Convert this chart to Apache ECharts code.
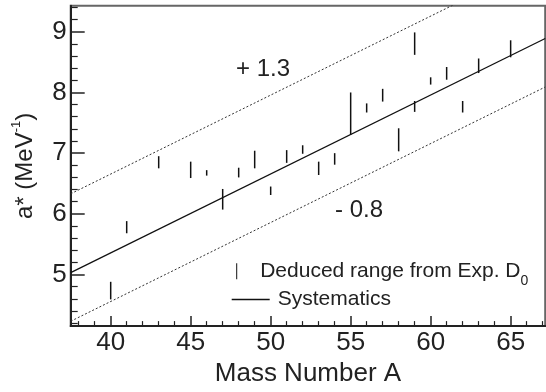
<!DOCTYPE html>
<html>
<head>
<meta charset="utf-8">
<script src="https://cdn.jsdelivr.net/npm/echarts@6/dist/echarts.min.js"></script>
<style>
  html, body { margin: 0; padding: 0; background: #fff; }
  #chart { width: 546px; height: 392px; }
</style>
</head>
<body>
<div id="chart"></div>
<script>
// mass number of each measured nucleus and the deduced a* range (low / high)
const massNumbers = [40, 41, 43, 45, 46, 47, 48, 49, 50, 51, 52, 53, 54, 55, 56, 57, 58, 59, 59, 60, 61, 62, 63, 65];
const rangeLow  = [4.59, 5.68, 6.75, 6.59, 6.63, 6.07, 6.60, 6.75, 6.31, 6.84, 6.99, 6.64, 6.81, 7.30, 7.67, 7.85, 7.03, 8.62, 7.68, 8.13, 8.21, 7.67, 8.32, 8.58];
const rangeHigh = [4.88, 5.88, 6.95, 6.86, 6.72, 6.41, 6.76, 7.04, 6.45, 7.05, 7.13, 6.86, 7.00, 8.00, 7.82, 8.06, 7.41, 8.99, 7.86, 8.25, 8.42, 7.86, 8.56, 8.86];

// systematics line and the +1.3 / -0.8 bands (end points)
const systematics = [[37.5, 5.03], [67.16, 8.89]];
const upperBand   = [[37.5, 6.33], [67.16, 10.19]];
const lowerBand   = [[37.5, 4.23], [67.16, 8.09]];

// tick labels
const xMajorTicks = [40, 45, 50, 55, 60, 65];
const xMinorTicks = [38, 39, 41, 42, 43, 44, 46, 47, 48, 49, 51, 52, 53, 54, 56, 57, 58, 59, 61, 62, 63, 64, 66, 67];
const yMajorTicks = [5, 6, 7, 8, 9];
const yMinorTicks = [4.2, 4.4, 4.6, 4.8, 5.2, 5.4, 5.6, 5.8, 6.2, 6.4, 6.6, 6.8, 7.2, 7.4, 7.6, 7.8, 8.2, 8.4, 8.6, 8.8, 9.2, 9.4];

const FONT = 'Liberation Sans';
const INK = '#222';

const rangeData = massNumbers.map((a, i) => [a, rangeLow[i], rangeHigh[i]]);

const chart = echarts.init(document.getElementById('chart'));

const baseX = { type: 'value', min: 37.5, max: 67.16, position: 'bottom', splitLine: { show: false } };
const baseY = { type: 'value', min: 4.15, max: 9.43, position: 'left', splitLine: { show: false } };

const option = {
  animation: false,
  textStyle: { fontFamily: FONT, color: INK },
  grid: {
    left: 70.7, top: 5.7, right: 0.8, bottom: 61.3,
    show: true, borderColor: '#666', borderWidth: 2
  },
  xAxis: [
    Object.assign({}, baseX, {
      name: 'Mass Number A',
      nameLocation: 'middle',
      nameGap: 33,
      nameTextStyle: { fontSize: 26, color: INK, fontFamily: FONT },
      axisLine: { lineStyle: { color: INK, width: 2 } },
      axisTick: { inside: true, length: 10, customValues: xMajorTicks, lineStyle: { color: INK, width: 1.5 } },
      axisLabel: { customValues: xMajorTicks, fontSize: 26, color: INK, margin: 4, fontFamily: FONT }
    }),
    Object.assign({}, baseX, {
      axisLine: { show: false },
      axisTick: { inside: true, length: 5, customValues: xMinorTicks, lineStyle: { color: INK, width: 1.2 } },
      axisLabel: { show: false }
    })
  ],
  yAxis: [
    Object.assign({}, baseY, {
      name: 'a* (MeV{sup|-1})',
      nameLocation: 'middle',
      nameRotate: 90,
      nameGap: 30,
      nameTextStyle: {
        fontSize: 24, color: INK, fontFamily: FONT,
        rich: { sup: { fontSize: 13, color: INK, fontFamily: FONT, padding: [0, 0, 18, 0] } }
      },
      axisLine: { lineStyle: { color: INK, width: 2 } },
      axisTick: { inside: true, length: 14, customValues: yMajorTicks, lineStyle: { color: INK, width: 1.5 } },
      axisLabel: { customValues: yMajorTicks, fontSize: 26, color: INK, margin: 4, fontFamily: FONT }
    }),
    Object.assign({}, baseY, {
      axisLine: { show: false },
      axisTick: { inside: true, length: 7, customValues: yMinorTicks, lineStyle: { color: INK, width: 1.2 } },
      axisLabel: { show: false }
    })
  ],
  legend: [
    {
      left: 236.2, top: 260.7, padding: 0,
      itemWidth: 37, itemHeight: 16,
      selectedMode: false,
      data: [{ name: 'Deduced range from Exp. D', icon: 'path://M0,0h1v16h-1z' }],
      formatter: (name) => name + '{sub|0}',
      textStyle: {
        fontSize: 21, color: INK, fontFamily: FONT,
        rich: { sub: { fontSize: 14, color: INK, fontFamily: FONT, padding: [20, 0, 0, 0] } }
      }
    },
    {
      left: 231.7, top: 289, padding: 0,
      itemWidth: 38, itemHeight: 14,
      selectedMode: false,
      data: [{ name: 'Systematics', icon: 'path://M0,0h38v1.3h-38z' }],
      textStyle: { fontSize: 21, color: INK, fontFamily: FONT, padding: [0, 0, 0, 3] }
    }
  ],
  graphic: [
    { type: 'text', left: 236, top: 57, style: { text: '+ 1.3', font: '24px "Liberation Sans"', fill: INK } },
    { type: 'text', left: 335, top: 198, style: { text: '- 0.8', font: '24px "Liberation Sans"', fill: INK } }
  ],
  series: [
    {
      name: '+1.3',
      type: 'line',
      data: upperBand,
      symbol: 'none',
      clip: true,
      lineStyle: { color: '#333', width: 1, type: [2, 2] }
    },
    {
      name: '-0.8',
      type: 'line',
      data: lowerBand,
      symbol: 'none',
      clip: true,
      lineStyle: { color: '#333', width: 1, type: [2, 2] }
    },
    {
      name: 'Systematics',
      type: 'line',
      data: systematics,
      symbol: 'none',
      clip: true,
      itemStyle: { color: '#111' },
      lineStyle: { color: '#111', width: 1.3 }
    },
    {
      name: 'Deduced range from Exp. D',
      type: 'custom',
      data: rangeData,
      encode: { x: 0, y: [1, 2] },
      itemStyle: { color: '#111' },
      renderItem: function (params, api) {
        const lo = api.coord([api.value(0), api.value(1)]);
        const hi = api.coord([api.value(0), api.value(2)]);
        return {
          type: 'line',
          shape: { x1: lo[0], y1: lo[1], x2: hi[0], y2: hi[1] },
          style: { stroke: '#111', lineWidth: 1.5 }
        };
      }
    }
  ]
};

chart.setOption(option);
</script>
</body>
</html>
